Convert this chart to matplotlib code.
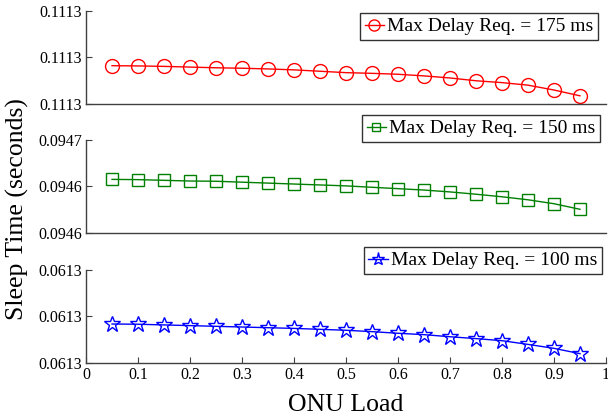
import matplotlib
matplotlib.use("Agg")
import matplotlib.pyplot as plt
from matplotlib.ticker import FormatStrFormatter

plt.rcParams['font.family'] = ['Liberation Serif', 'DejaVu Serif']
plt.rcParams['mathtext.fontset'] = 'stix'

onu_load = [0.05, 0.10, 0.15, 0.20, 0.25, 0.30, 0.35, 0.40, 0.45, 0.50,
            0.55, 0.60, 0.65, 0.70, 0.75, 0.80, 0.85, 0.90, 0.95]

sleep_175 = [0.1112964, 0.1112963, 0.1112961, 0.1112958, 0.1112955, 0.1112953,
             0.1112950, 0.1112946, 0.1112940, 0.1112934, 0.1112931, 0.1112927,
             0.1112920, 0.1112911, 0.1112899, 0.1112891, 0.1112880, 0.1112859,
             0.1112834]
sleep_150 = [0.0946430, 0.0946429, 0.0946426, 0.0946423, 0.0946422, 0.0946418,
             0.0946414, 0.0946410, 0.0946406, 0.0946402, 0.0946396, 0.0946390,
             0.0946384, 0.0946376, 0.0946366, 0.0946355, 0.0946342, 0.0946325,
             0.0946301]
sleep_100 = [0.0612967, 0.0612966, 0.0612963, 0.0612960, 0.0612957, 0.0612954,
             0.0612951, 0.0612948, 0.0612944, 0.0612940, 0.0612934, 0.0612927,
             0.0612921, 0.0612912, 0.0612904, 0.0612895, 0.0612879, 0.0612862,
             0.0612839]

yticks_175 = [0.11128, 0.11130, 0.11132]
yticks_150 = [0.09462, 0.09464, 0.09466]
yticks_100 = [0.06128, 0.06130, 0.06132]

xticks = [0, 0.1, 0.2, 0.3, 0.4, 0.5, 0.6, 0.7, 0.8, 0.9, 1]
xtick_labels = ['0', '0.1', '0.2', '0.3', '0.4', '0.5', '0.6', '0.7', '0.8', '0.9', '1']

labels = ['Max Delay Req. = 175 ms', 'Max Delay Req. = 150 ms', 'Max Delay Req. = 100 ms']

W, H = 608, 418
fig = plt.figure(figsize=(W / 100, H / 100), dpi=100)

left = 86 / W
width = (606 - 86) / W
h = 92.7 / H
panels = [
    (11, sleep_175, yticks_175, 'red', 'o', 10, labels[0], (598, 13)),
    (140, sleep_150, yticks_150, 'green', 's', 8, labels[1], (600, 115)),
    (270, sleep_100, yticks_100, 'blue', '*', 12, labels[2], (602, 247)),
]

spine_col = '#404040'
axes = []
for i, (top, ys, yt, col, mk, ms, lab, legpos) in enumerate(panels):
    ax = fig.add_axes([left, 1 - (top + 92.7) / H, width, h])
    ax.plot(onu_load, ys, color=col, marker=mk, markersize=ms,
            markerfacecolor='none', markeredgecolor=col, markeredgewidth=1.0,
            linewidth=1.0, label=lab)
    ax.set_xlim(0, 1)
    ax.set_ylim(yt[0], yt[-1])
    ax.set_yticks(yt)
    ax.yaxis.set_major_formatter(FormatStrFormatter('%.4f'))
    for s in ['top', 'right']:
        ax.spines[s].set_visible(False)
    for s in ['left', 'bottom']:
        ax.spines[s].set_color(spine_col)
        ax.spines[s].set_linewidth(1.0)
    ax.tick_params(axis='y', direction='in', length=4, labelsize=11.5, colors=spine_col,
                   labelcolor='black', pad=3)
    if i < 2:
        ax.tick_params(axis='x', which='both', bottom=False, labelbottom=False)
    else:
        ax.set_xticks(xticks)
        ax.set_xticklabels(xtick_labels)
        ax.tick_params(axis='x', direction='in', length=4, labelsize=11.5, colors=spine_col,
                       labelcolor='black', pad=3)
        ax.set_xlabel('ONU Load', fontsize=18.5, labelpad=8)
    leg = ax.legend(loc='upper right',
                    bbox_to_anchor=(legpos[0] / W, 1 - legpos[1] / H),
                    bbox_transform=fig.transFigure,
                    fontsize=14, frameon=True, fancybox=False,
                    handlelength=1.0, handletextpad=0.15, borderpad=0.25,
                    borderaxespad=0, markerscale=0.8)
    leg.get_frame().set_edgecolor('black')
    leg.get_frame().set_linewidth(1.0)
    axes.append(ax)

fig.text(17 / W, 1 - 209 / H, 'Sleep Time (seconds)', rotation=90,
         fontsize=18.5, ha='center', va='center')

fig.savefig('out.png', dpi=100)
